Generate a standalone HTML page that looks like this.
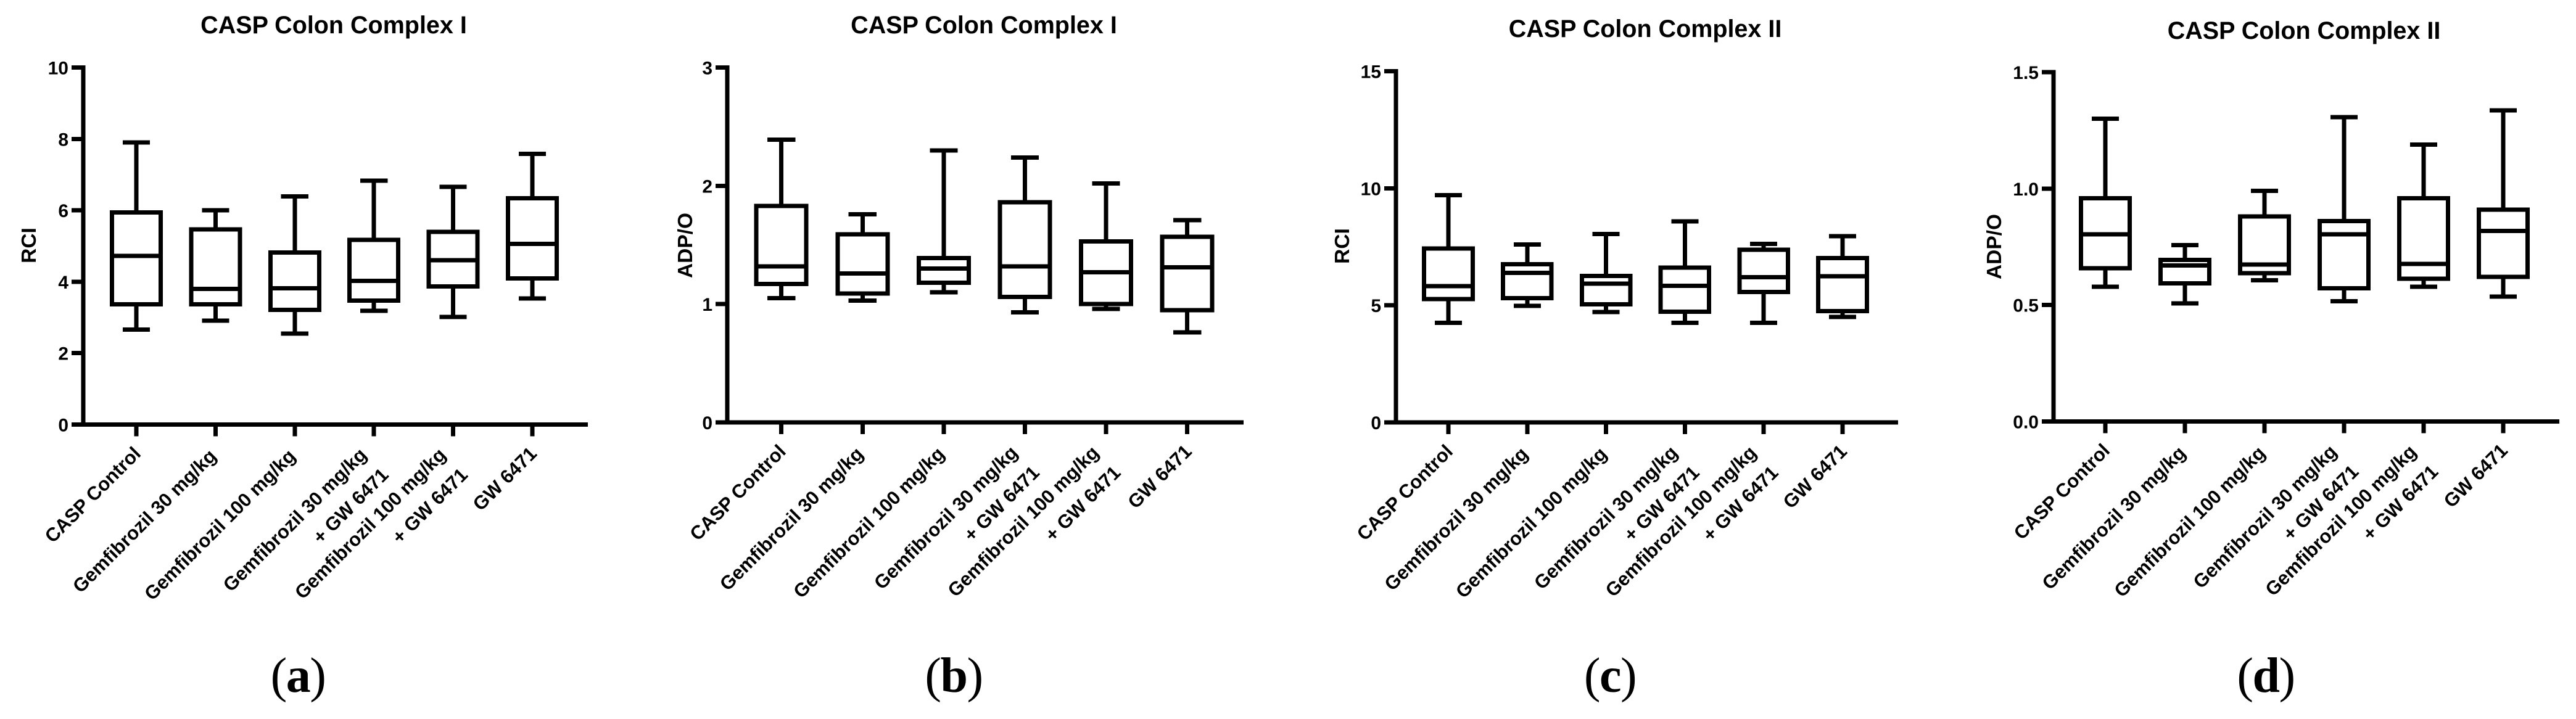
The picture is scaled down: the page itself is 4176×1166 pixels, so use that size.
<!DOCTYPE html>
<html lang="en">
<head>
<meta charset="utf-8">
<title>CASP Colon Complex box plots</title>
<style>
  html, body { margin: 0; padding: 0; background: #fff; }
  svg { display: block; }
  line, rect { shape-rendering: crispEdges; }
  .title { font: bold 39.5px "Liberation Sans", sans-serif; text-anchor: middle; fill: #000; }
  .ytitle { font: bold 33.5px "Liberation Sans", sans-serif; text-anchor: middle; fill: #000; }
  .caption { font: 80px "Liberation Serif", serif; letter-spacing: -1.5px; text-anchor: middle; fill: #000; }
  .caption tspan { font-weight: bold; }
  .ticklabel { font: bold 30px "Liberation Sans", sans-serif; text-anchor: end; fill: #000; }
  .catlabel { font: bold 31px "Liberation Sans", sans-serif; text-anchor: end; fill: #000; }
</style>
</head>
<body>
<svg id="figure" xmlns="http://www.w3.org/2000/svg" width="4176" height="1166" viewBox="0 0 4176 1166">
  <rect width="4176" height="1166" fill="#fff"/>

  <g id="panel-a">
    <text class="title" x="541" y="54">CASP Colon Complex I</text>
    <text class="ytitle" transform="translate(58 398) rotate(-90)">RCI</text>
    <text class="caption" x="483" y="1122">(<tspan>a</tspan>)</text>
  </g>
  <g id="panel-b">
    <text class="title" x="1595" y="54">CASP Colon Complex I</text>
    <text class="ytitle" transform="translate(1122 398) rotate(-90)">ADP/O</text>
    <text class="caption" x="1546" y="1122">(<tspan>b</tspan>)</text>
  </g>
  <g id="panel-c">
    <text class="title" x="2667" y="60">CASP Colon Complex II</text>
    <text class="ytitle" transform="translate(2187 399) rotate(-90)">RCI</text>
    <text class="caption" x="2610" y="1122">(<tspan>c</tspan>)</text>
  </g>
  <g id="panel-d">
    <text class="title" x="3735" y="63">CASP Colon Complex II</text>
    <text class="ytitle" transform="translate(3244 400) rotate(-90)">ADP/O</text>
    <text class="caption" x="3673" y="1122">(<tspan>d</tspan>)</text>
  </g>
</svg>

<script>
// ---- Data: categories ----
const categoryLine1 = ["CASP Control", "Gemfibrozil 30 mg/kg", "Gemfibrozil 100 mg/kg", "Gemfibrozil 30 mg/kg", "Gemfibrozil 100 mg/kg", "GW 6471"];
const categoryLine2 = ["", "", "", "+ GW 6471", "+ GW 6471", ""];

// ---- Data: panel a (RCI, Complex I) ----
const aTicks = [0, 2, 4, 6, 8, 10];
const aHigh = [7.9, 6.0, 6.39, 6.83, 6.66, 7.58];
const aQ3 = [5.94, 5.47, 4.82, 5.17, 5.40, 6.34];
const aMedian = [4.72, 3.80, 3.82, 4.02, 4.60, 5.06];
const aQ1 = [3.37, 3.37, 3.21, 3.47, 3.87, 4.09];
const aLow = [2.66, 2.91, 2.55, 3.19, 3.01, 3.53];

// ---- Data: panel b (ADP/O, Complex I) ----
const bTicks = [0, 1, 2, 3];
const bHigh = [2.39, 1.76, 2.30, 2.24, 2.02, 1.71];
const bQ3 = [1.83, 1.59, 1.39, 1.86, 1.53, 1.57];
const bMedian = [1.32, 1.26, 1.30, 1.32, 1.27, 1.31];
const bQ1 = [1.17, 1.09, 1.18, 1.06, 1.00, 0.95];
const bLow = [1.05, 1.03, 1.10, 0.93, 0.96, 0.76];

// ---- Data: panel c (RCI, Complex II) ----
const cTicks = [0, 5, 10, 15];
const cHigh = [9.7, 7.6, 8.04, 8.59, 7.63, 7.96];
const cQ3 = [7.43, 6.75, 6.25, 6.61, 7.37, 7.02];
const cMedian = [5.82, 6.39, 5.92, 5.84, 6.2, 6.24];
const cQ1 = [5.27, 5.31, 5.04, 4.73, 5.57, 4.75];
const cLow = [4.25, 4.98, 4.71, 4.25, 4.25, 4.51];

// ---- Data: panel d (ADP/O, Complex II) ----
const dTicks = ["0.0", "0.5", "1.0", "1.5"];
const dHigh = [1.30, 0.757, 0.99, 1.307, 1.189, 1.336];
const dQ3 = [0.958, 0.694, 0.881, 0.861, 0.958, 0.909];
const dMedian = [0.804, 0.67, 0.674, 0.804, 0.676, 0.818];
const dQ1 = [0.658, 0.593, 0.637, 0.572, 0.613, 0.621];
const dLow = [0.578, 0.507, 0.607, 0.516, 0.578, 0.536];

const SVG_NS = 'http://www.w3.org/2000/svg';
const STROKE = 7;
const BOX_RATIO = 0.3076;
const CAP_RATIO = 0.172;
const Y_TICK_LEN = 19;
const X_TICK_LEN = 19;

function shape(tag, parent, attrs) {
  const el = document.createElementNS(SVG_NS, tag);
  for (const k in attrs) el.setAttribute(k, attrs[k]);
  parent.appendChild(el);
  return el;
}

function stroked(x1, y1, x2, y2) {
  return { x1: x1, y1: y1, x2: x2, y2: y2, stroke: '#000', 'stroke-width': STROKE };
}

function drawPanel(groupId, layout, ticks, low, q1, median, q3, high) {
  const panel = document.getElementById(groupId);
  const tickMax = Number(ticks[ticks.length - 1]);
  const xScale = i => layout.firstX + i * layout.stepX;
  const yScale = v => layout.y0 - (Number(v) / tickMax) * (layout.y0 - layout.yTop);
  const boxHalf = layout.stepX * BOX_RATIO;
  const capHalf = layout.stepX * CAP_RATIO;

  // axes
  const yAxis = shape('line', panel, stroked(layout.axisX, layout.yTop - STROKE / 2, layout.axisX, layout.y0 + STROKE / 2));
  
  
  const xAxis = shape('line', panel, stroked(layout.axisX - Y_TICK_LEN, layout.y0, layout.right, layout.y0));
  
  

  // y ticks
  ticks.forEach(t => {
    const y = yScale(t);
    const mark = shape('line', panel, stroked(layout.axisX - Y_TICK_LEN, y, layout.axisX, y));
    
    
    const label = shape('text', panel, { class: 'ticklabel', x: layout.axisX - 24, y: y + 11 });
    
    
    label.textContent = String(t);
  });

  // categories
  categoryLine1.forEach((name, i) => {
    const x = xScale(i);
    const mark = shape('line', panel, stroked(x, layout.y0, x, layout.y0 + X_TICK_LEN));
    
    

    const twoLines = categoryLine2[i] !== '';
    const hasDescender = /g/.test(name);
    const ax = x + (twoLines ? -10 : hasDescender ? 3 : 9);
    const ay = layout.y0 + (twoLines ? 51 : hasDescender ? 53 : 49);
    const labelGroup = shape('g', panel, { transform: 'translate(' + ax + ' ' + ay + ') rotate(-45)' });
    
    
    const line1 = shape('text', labelGroup, { class: 'catlabel', x: 0, y: 0 });
    
    
    line1.textContent = name;
    if (twoLines) {
      const line2 = shape('text', labelGroup, { class: 'catlabel', x: 2, y: 48 });
      
      
      line2.textContent = categoryLine2[i];
    }

    // box and whiskers
    const group = shape('g', panel, {});
    
    

    const upper = shape('line', group, stroked(x, yScale(high[i]), x, yScale(q3[i])));
    
    
    const lower = shape('line', group, stroked(x, yScale(q1[i]), x, yScale(low[i])));
    
    
    const capHigh = shape('line', group, stroked(x - capHalf, yScale(high[i]), x + capHalf, yScale(high[i])));
    
    
    const capLow = shape('line', group, stroked(x - capHalf, yScale(low[i]), x + capHalf, yScale(low[i])));
    
    
    const box = shape('rect', group, {
      x: x - boxHalf,
      y: yScale(q3[i]),
      width: boxHalf * 2,
      height: yScale(q1[i]) - yScale(q3[i]),
      fill: 'none',
      stroke: '#000',
      'stroke-width': STROKE
    });
    
    
    const med = shape('line', group, stroked(x - boxHalf, yScale(median[i]), x + boxHalf, yScale(median[i])));
    
    
  });
}

drawPanel('panel-a', { axisX: 135, y0: 688.5, yTop: 109.5, right: 953, firstX: 221, stepX: 128.4 }, aTicks, aLow, aQ1, aMedian, aQ3, aHigh);
drawPanel('panel-b', { axisX: 1179, y0: 685, yTop: 109.5, right: 2016, firstX: 1266.7, stepX: 131.6 }, bTicks, bLow, bQ1, bMedian, bQ3, bHigh);
drawPanel('panel-c', { axisX: 2263, y0: 685, yTop: 115.5, right: 3077, firstX: 2348, stepX: 127.8 }, cTicks, cLow, cQ1, cMedian, cQ3, cHigh);
drawPanel('panel-d', { axisX: 3329, y0: 683.5, yTop: 117, right: 4149, firstX: 3413, stepX: 129 }, dTicks, dLow, dQ1, dMedian, dQ3, dHigh);
</script>
</body>
</html>
